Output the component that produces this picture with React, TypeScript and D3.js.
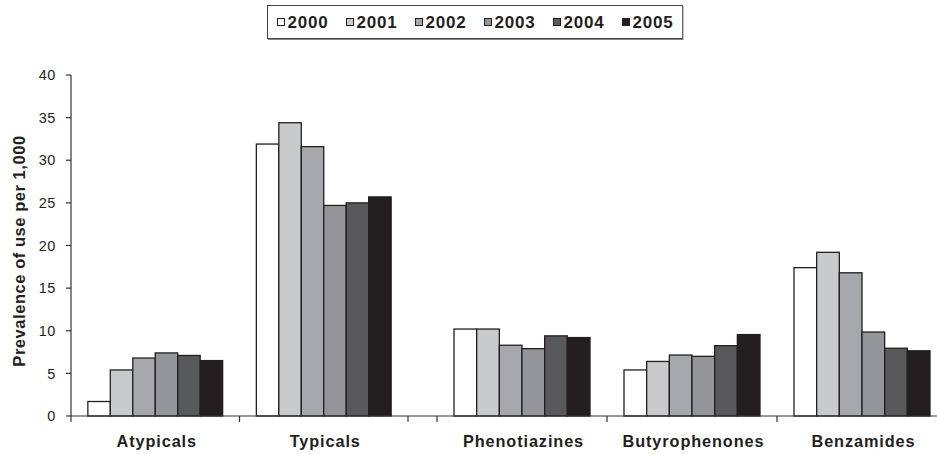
import React from "react";
import * as d3 from "d3";

const W = 937;
const H = 454;

const categoriesLeft = ["Atypicals", "Typicals"];
const categoriesRight = ["Phenotiazines", "Butyrophenones", "Benzamides"];
const categories = [...categoriesLeft, ...categoriesRight];
const years = ["2000", "2001", "2002", "2003", "2004", "2005"];

const v2000 = [1.7, 31.9, 10.2, 5.4, 17.4];
const v2001 = [5.4, 34.4, 10.2, 6.4, 19.2];
const v2002 = [6.8, 31.6, 8.3, 7.15, 16.8];
const v2003 = [7.4, 24.7, 7.9, 7.0, 9.85];
const v2004 = [7.1, 25.0, 9.4, 8.25, 7.95];
const v2005 = [6.5, 25.7, 9.2, 9.55, 7.65];
const series = [v2000, v2001, v2002, v2003, v2004, v2005];

const yTicks = [0, 5, 10, 15, 20, 25, 30, 35, 40];
const colors = ["#ffffff", "#c9cacc", "#a7a8ab", "#949598", "#58595b", "#231f20"];

const FONT = "'Liberation Sans', Arial, Helvetica, sans-serif";

export default function App() {
  const y = d3.scaleLinear().domain([0, 40]).range([416, 75]);
  const xLeft = d3.scaleBand<string>().domain(categoriesLeft).range([71, 408]).padding(0);
  const xRight = d3.scaleBand<string>().domain(categoriesRight).range([437, 947]).padding(0);
  const bandOf = (c: string) => (categoriesLeft.includes(c) ? xLeft : xRight);
  const groupFrac = 0.8;

  const boundaries = [
    ...categoriesLeft.map((c) => xLeft(c) as number),
    xLeft.range()[1],
    ...categoriesRight.map((c) => xRight(c) as number),
  ];

  const legendX0 = 277;
  const legendStep = 69;

  return (
    <svg width={W} height={H} style={{ position: "absolute", left: 0, top: 0, background: "#fff" }} fontFamily={FONT}>
      <rect x={0} y={0} width={W} height={H} fill="#fff" />
      {/* Legend */}
      <rect x={267.5} y={5.5} width={415} height={33} fill="#fff" stroke="#444" strokeWidth={1} />
      <line x1={683} y1={6} x2={683} y2={39.5} stroke="#888" strokeWidth={1} />
      <line x1={268} y1={39.5} x2={683.5} y2={39.5} stroke="#888" strokeWidth={1} />
      {years.map((yr, i) => (
        <g key={yr} transform={`translate(${legendX0 + i * legendStep},0)`}>
          <rect x={0.5} y={18.5} width={7} height={7} fill={colors[i]} stroke="#231f20" strokeWidth={1} />
          <text x={10.5} y={28} fontSize={17} fontWeight="bold" letterSpacing={0.8} fill="#231f20">
            {yr}
          </text>
        </g>
      ))}

      {/* Bars */}
      {categories.map((c, ci) => {
        const band = bandOf(c);
        const bw = band.bandwidth();
        const gx = (band(c) as number) + (bw * (1 - groupFrac)) / 2;
        const inner = d3.scaleBand<string>().domain(years).range([gx, gx + bw * groupFrac]).padding(0);
        return (
          <g key={c}>
            {years.map((yr, si) => {
              const v = series[si][ci];
              return (
                <rect
                  key={yr}
                  x={inner(yr) as number}
                  y={y(v)}
                  width={inner.bandwidth()}
                  height={y(0) - y(v)}
                  fill={colors[si]}
                  stroke="#231f20"
                  strokeWidth={1.3}
                />
              );
            })}
          </g>
        );
      })}

      {/* Y axis */}
      <line x1={71} y1={75} x2={71} y2={416} stroke="#333" strokeWidth={1.2} />
      {yTicks.map((t) => (
        <g key={t}>
          <line x1={66} x2={71} y1={y(t)} y2={y(t)} stroke="#333" strokeWidth={1.2} />
          <text x={56} y={y(t)} dy="0.36em" textAnchor="end" fontSize={14.5} letterSpacing={0.6} fill="#231f20">
            {t}
          </text>
        </g>
      ))}
      <text
        transform="translate(24.5,251) rotate(-90)"
        textAnchor="middle"
        fontSize={16.5}
        fontWeight="bold"
        letterSpacing={0.55}
        fill="#231f20"
      >
        Prevalence of use per 1,000
      </text>

      {/* X axis */}
      <line x1={71} y1={416} x2={947} y2={416} stroke="#333" strokeWidth={1.2} />
      {boundaries.map((b, i) => (
        <line key={i} x1={b} x2={b} y1={416} y2={422} stroke="#333" strokeWidth={1.2} />
      ))}
      {categories.map((c) => {
        const band = bandOf(c);
        return (
          <text
            key={c}
            x={(band(c) as number) + band.bandwidth() / 2 + 1.5}
            y={447}
            textAnchor="middle"
            fontSize={16.3}
            fontWeight="bold"
            letterSpacing={0.9}
            fill="#231f20"
          >
            {c}
          </text>
        );
      })}
    </svg>
  );
}
